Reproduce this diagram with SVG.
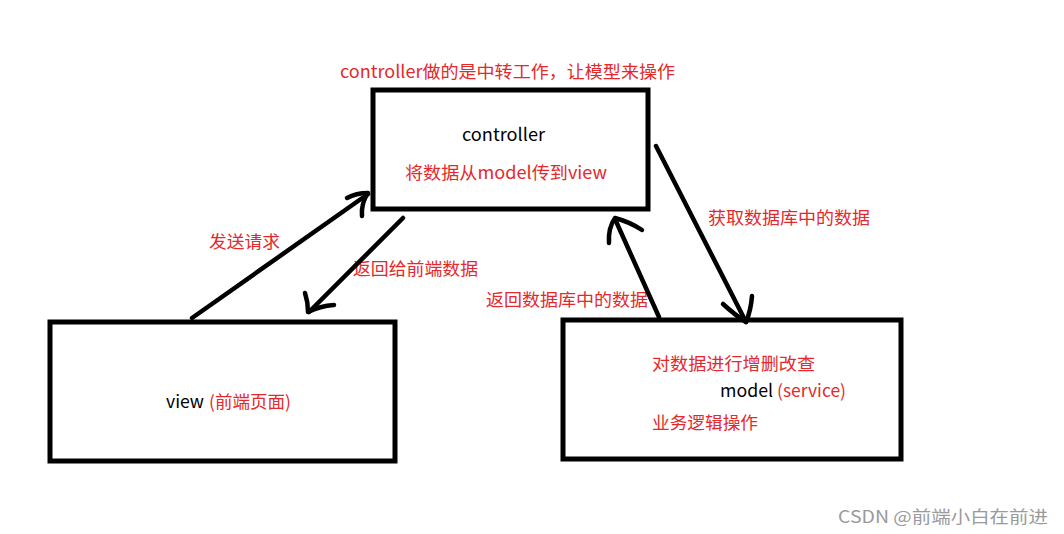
<svg xmlns="http://www.w3.org/2000/svg" width="1064" height="534" viewBox="0 0 1064 534">
<style>
.box{fill:#fff;stroke:#000;stroke-width:5}
.ln{fill:none;stroke:#000;stroke-width:4.5;stroke-linecap:round;stroke-linejoin:round}
text{font-family:"Noto Sans CJK SC","Microsoft YaHei",sans-serif;font-size:17.5px}
.r{fill:#e4292b}
.k{fill:#000}
.wm{fill:#9a9a9a;font-size:17px}
</style>
<rect width="1064" height="534" fill="#fff"/>
<g id="controller">
<rect class="box" x="373" y="90" width="275" height="119"/>
<text class="k" x="462" y="141" textLength="83" lengthAdjust="spacingAndGlyphs">controller</text>
<text class="r" x="405" y="179" textLength="202" lengthAdjust="spacingAndGlyphs">将数据从model传到view</text>
</g>
<g id="view">
<rect class="box" x="50" y="322" width="345" height="139"/>
<text class="k" x="166" y="408" textLength="38" lengthAdjust="spacingAndGlyphs">view</text>
<text class="r" x="209" y="408" textLength="82" lengthAdjust="spacingAndGlyphs">(前端页面)</text>
</g>
<g id="model">
<rect class="box" x="563" y="320" width="338" height="139"/>
<text class="r" x="652" y="370" textLength="163" lengthAdjust="spacingAndGlyphs">对数据进行增删改查</text>
<text class="k" x="720" y="397" textLength="53" lengthAdjust="spacingAndGlyphs">model</text>
<text class="r" x="777" y="397" textLength="69" lengthAdjust="spacingAndGlyphs">(service)</text>
<text class="r" x="652" y="429" textLength="106" lengthAdjust="spacingAndGlyphs">业务逻辑操作</text>
</g>
<g id="labels">
<text class="r" x="340" y="78" textLength="335" lengthAdjust="spacingAndGlyphs">controller做的是中转工作，让模型来操作</text>
<text class="r" x="209" y="248" textLength="71" lengthAdjust="spacingAndGlyphs">发送请求</text>
<text class="r" x="353" y="275" textLength="125" lengthAdjust="spacingAndGlyphs">返回给前端数据</text>
<text class="r" x="708" y="224" textLength="162" lengthAdjust="spacingAndGlyphs">获取数据库中的数据</text>
<text class="r" x="486" y="306" textLength="162" lengthAdjust="spacingAndGlyphs">返回数据库中的数据</text>
<text class="wm" x="838" y="523" textLength="210" lengthAdjust="spacingAndGlyphs">CSDN @前端小白在前进</text>
</g>
<g id="connectors">
<path class="ln" d="M192,318 L368,194"/>
<path class="ln" d="M347,198 Q356,193 368,193 Q361,203 362,216"/>
<path class="ln" d="M403,218 L309,312"/>
<path class="ln" d="M305,293 Q308,302 308,312 Q320,306 334,305"/>
<path class="ln" d="M659,317 L615,219"/>
<path class="ln" d="M609,243 Q608,228 615,218 Q630,222 642,230"/>
<path class="ln" d="M656,146 L746,322"/>
<path class="ln" d="M723,304 Q735,315 746,322 Q751,310 752,296"/>
</g>
</svg>
